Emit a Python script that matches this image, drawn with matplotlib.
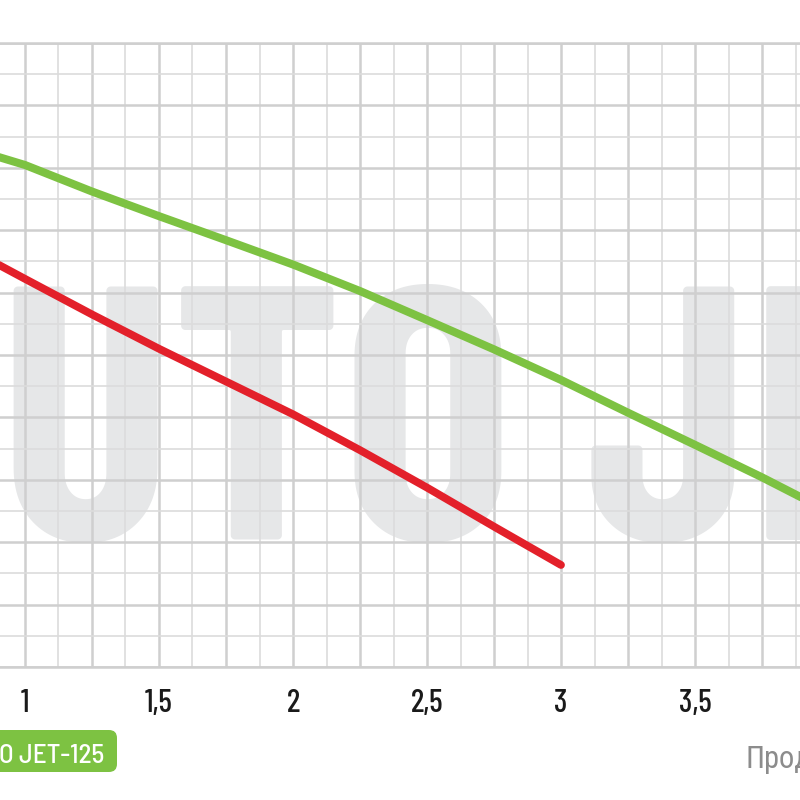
import matplotlib
matplotlib.use("Agg")
import matplotlib.pyplot as plt
from matplotlib.patches import FancyBboxPatch
from matplotlib.ticker import MultipleLocator, FuncFormatter

# curves (flow in m3/h, head in grid cells)
flow_green = [0.9, 1.0, 1.25, 1.5, 1.75, 2.0, 2.25, 2.5, 2.75, 3.0, 3.25, 3.5, 3.75, 3.95]
head_green = [16.35, 16.09, 15.24, 14.45, 13.68, 12.9, 12.05, 11.12, 10.18, 9.2, 8.15, 7.12, 6.08, 5.2]
flow_red = [0.9, 1.0, 1.25, 1.5, 1.75, 2.0, 2.25, 2.5, 2.75, 3.0]
head_red = [12.9, 12.44, 11.3, 10.2, 9.15, 8.1, 6.95, 5.75, 4.5, 3.27]

tick_values = [1.0, 1.5, 2.0, 2.5, 3.0, 3.5]
tick_labels = ["1", "1,5", "2", "2,5", "3", "3,5"]
model_label = "O JET-125"
watermark = "AUTO JET"
x_label = "Прод"

FONT = ["Barlow Condensed", "DejaVu Sans"]
FONT_SEMI = ["Barlow Semi Condensed", "DejaVu Sans"]
FONT_CYR = ["Roboto Condensed", "PT Sans Narrow", "Open Sans", "DejaVu Sans"]
GREEN = "#7dc242"
RED = "#e3202a"

fig = plt.figure(figsize=(8, 8), dpi=100)
ax = fig.add_axes([0, 1 - 667 / 800, 1, 624 / 800])
ax.set_xlim(1 - 25 / 268, 1 + 775 / 268)
ax.set_ylim(0, 20)

ax.xaxis.set_major_locator(MultipleLocator(0.25))
ax.xaxis.set_minor_locator(MultipleLocator(0.125))
ax.yaxis.set_major_locator(MultipleLocator(2))
ax.yaxis.set_minor_locator(MultipleLocator(1))
label_map = {round(v, 3): s for v, s in zip(tick_values, tick_labels)}
ax.xaxis.set_major_formatter(FuncFormatter(lambda v, _: label_map.get(round(v, 3), "")))
ax.tick_params(axis="x", which="both", length=0, pad=16, labelsize=23, labelcolor="#1a1a1a")
ax.tick_params(axis="y", which="both", length=0, labelleft=False)
for lab in ax.get_xticklabels():
    lab.set_family(FONT)
    lab.set_fontweight(500)

ax.set_axisbelow(True)
ax.grid(which="major", color="#cfcfcf", linewidth=1.8)
ax.grid(which="minor", color="#dcdcdc", linewidth=1.2)
for side in ("left", "right"):
    ax.spines[side].set_visible(False)
for side in ("top", "bottom"):
    ax.spines[side].set_color("#cfcfcf")
    ax.spines[side].set_linewidth(1.8)

# faint brand name behind the grid
ax.text(0.25, 4.07, watermark, color="#e6e7e8", fontsize=261, fontweight="bold",
        family=FONT, ha="left", va="baseline", zorder=0.2)

ax.plot(flow_green, head_green, color=GREEN, linewidth=5.8, solid_capstyle="round")
ax.plot(flow_red, head_red, color=RED, linewidth=5.6, solid_capstyle="round")

# model tag, bottom left
fig.patches.append(FancyBboxPatch((-30 / 800, 28 / 800), 147 / 800, 42 / 800,
                                  boxstyle="round,pad=0,rounding_size=0.01",
                                  transform=fig.transFigure, fc=GREEN, ec="none"))
fig.text(104 / 800, 1 - 763 / 800, model_label, color="white", fontsize=19.5,
         family=FONT_SEMI, fontweight=500, ha="right", va="baseline")
fig.text(746 / 800, 1 - 768 / 800, x_label, color="#8c8c8c", fontsize=22,
         family=FONT_CYR, ha="left", va="baseline")

fig.savefig("out.png", dpi=100)
